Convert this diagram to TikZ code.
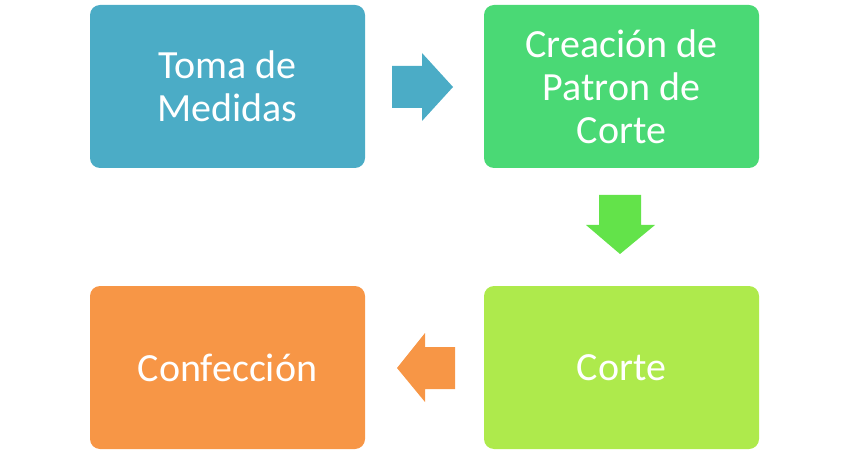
\documentclass[tikz,border=0pt]{standalone}
\usepackage{fontspec}
\setmainfont{Carlito}
\definecolor{aqua}{HTML}{4BACC6}
\definecolor{mint}{HTML}{4AD975}
\definecolor{leaf}{HTML}{63E34A}
\definecolor{lime}{HTML}{AEEA4C}
\definecolor{peach}{HTML}{F79646}
\tikzset{
  stage/.style={rounded corners=10pt, minimum width=275pt, minimum height=163pt,
    inner sep=0pt, text=white, align=center, font=\fontsize{40}{43}\selectfont}
}
\begin{document}
\begin{tikzpicture}[x=1pt, y=-1pt]
  \useasboundingbox (0,0) rectangle (848,454);
  \node[stage, fill=aqua] (S0) at (227.5, 86.5) {Toma de\\Medidas};
  \node[stage, fill=mint] (S1) at (621.5, 86.5) {Creación de\\Patron de\\Corte};
  \node[stage, fill=lime] (S2) at (621.5, 367.5) {Corte};
  \node[stage, fill=peach] (S3) at (227.5, 367.5) {Confección};
  \fill[aqua] (392, 66) -- (422, 66) -- (422, 53) -- (453, 87) -- (422, 121) -- (422, 108) -- (392, 108) -- cycle;
  \fill[leaf] (599, 195) -- (641, 195) -- (641, 225) -- (655, 225) -- (620, 254) -- (586, 225) -- (599, 225) -- cycle;
  \fill[peach] (455, 347) -- (425, 347) -- (425, 333) -- (397, 368) -- (425, 402) -- (425, 389) -- (455, 389) -- cycle;
\end{tikzpicture}
\end{document}
